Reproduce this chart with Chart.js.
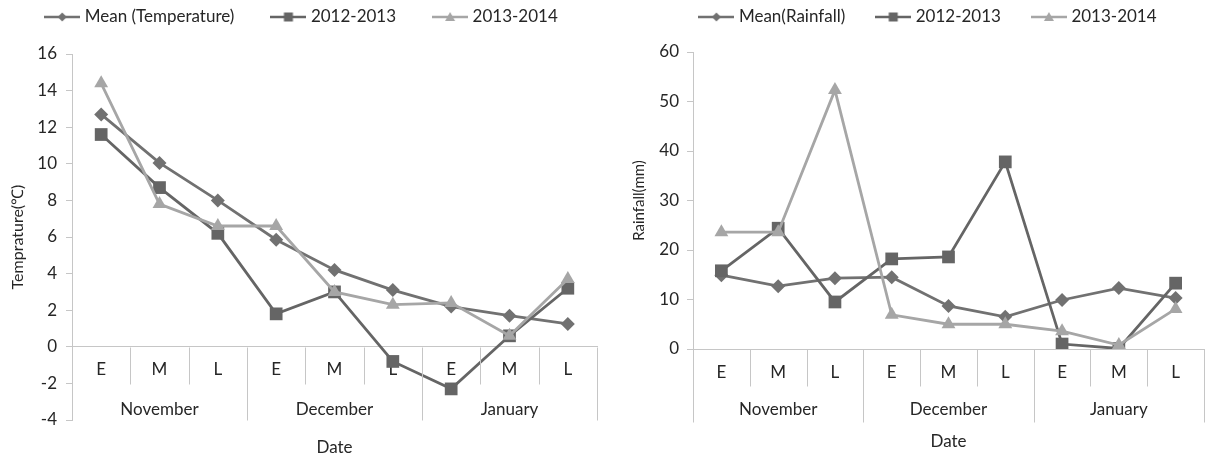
<!DOCTYPE html>
<html>
<head>
<meta charset="utf-8">
<script src="https://cdn.jsdelivr.net/npm/chart.js@4/dist/chart.umd.min.js"></script>
<style>
  html, body { margin: 0; padding: 0; background: #ffffff; }
  #wrap { position: relative; width: 1213px; height: 459px; overflow: hidden; }
  .panel { position: absolute; top: 0; height: 459px; }
  #leftPanel { left: 0; width: 606px; }
  #rightPanel { left: 606px; width: 607px; }
</style>
</head>
<body>
<div id="wrap">
  <div class="panel" id="leftPanel"><canvas id="tempChart"></canvas></div>
  <div class="panel" id="rightPanel"><canvas id="rainChart"></canvas></div>
</div>
<script>
// Ten-day periods (early / mid / late) grouped by month
const periods = ['E', 'M', 'L', 'E', 'M', 'L', 'E', 'M', 'L'];
const months = ['November', 'December', 'January'];

// Temperature (°C)
const tempMean = [12.7, 10.05, 8.0, 5.85, 4.2, 3.1, 2.2, 1.7, 1.25];
const temp1213 = [11.6, 8.7, 6.2, 1.8, 3.0, -0.8, -2.3, 0.6, 3.2];
const temp1314 = [14.4, 7.8, 6.6, 6.6, 3.0, 2.3, 2.4, 0.6, 3.7];

// Rainfall (mm)
const rainMean = [14.9, 12.7, 14.3, 14.5, 8.7, 6.5, 9.9, 12.3, 10.3];
const rain1213 = [15.8, 24.4, 9.5, 18.2, 18.6, 37.8, 1.0, 0.1, 13.3];
const rain1314 = [23.6, 23.6, 52.3, 6.9, 5.0, 5.0, 3.6, 0.8, 8.1];

const FONT = 'Lato, "Open Sans", sans-serif';
const FS = 17;
const TEXT = '#262626';
const AXIS = '#c6c6c6';
const C_MEAN = '#717171';
const C_1213 = '#656565';
const C_1314 = '#a6a6a6';

const styles = [
  { color: C_MEAN, shape: 'rectRot', radius: 7 },
  { color: C_1213, shape: 'rect', radius: 9 },
  { color: C_1314, shape: 'triangle', radius: 8 }
];

// Small line-with-marker swatch used as the legend symbol
function swatch(color, shape) {
  const c = document.createElement('canvas');
  c.width = 36; c.height = 14;
  const g = c.getContext('2d');
  g.strokeStyle = color; g.fillStyle = color; g.lineWidth = 2.5;
  g.beginPath(); g.moveTo(0, 7); g.lineTo(36, 7); g.stroke();
  g.beginPath();
  if (shape === 'rectRot') {
    g.moveTo(18, 2.5); g.lineTo(22.5, 7); g.lineTo(18, 11.5); g.lineTo(13.5, 7);
  } else if (shape === 'rect') {
    g.rect(13.5, 2.5, 9, 9);
  } else {
    g.moveTo(18, 2); g.lineTo(23, 11); g.lineTo(13, 11);
  }
  g.closePath(); g.fill();
  return c;
}

function makeDatasets(names, series) {
  return series.map((data, i) => ({
    label: names[i],
    data: data,
    borderColor: styles[i].color,
    backgroundColor: styles[i].color,
    borderWidth: 2.8,
    pointStyle: styles[i].shape,
    pointRadius: styles[i].radius,
    pointHoverRadius: styles[i].radius,
    pointBorderWidth: 0,
    tension: 0,
    order: 3 - i
  }));
}

// Two-level category axis: separators and month names under the E/M/L labels
const groupAxis = {
  id: 'groupAxis',
  afterDraw(chart, args, o) {
    const xs = chart.scales.x;
    const ys = chart.scales.y;
    const ctx = chart.ctx;
    const base = Math.round(ys.getPixelForValue(o.baseValue)) + 0.5;
    const half = (xs.getPixelForValue(1) - xs.getPixelForValue(0)) / 2;
    ctx.save();
    ctx.strokeStyle = AXIS;
    ctx.lineWidth = 1;
    for (let i = 0; i <= periods.length; i++) {
      const isGroup = i % 3 === 0;
      if (i === 0 && o.skipFirst) continue;
      let px = Math.round(xs.getPixelForValue(i) - half) + 0.5;
      if (px > chart.width) px = chart.width - 0.5;
      ctx.beginPath();
      ctx.moveTo(px, base);
      ctx.lineTo(px, base + (isGroup ? o.groupLen : o.tickLen));
      ctx.stroke();
    }
    ctx.fillStyle = TEXT;
    ctx.font = FS + 'px ' + FONT;
    ctx.textAlign = 'center';
    ctx.textBaseline = 'middle';
    months.forEach((m, k) => {
      ctx.fillText(m, xs.getPixelForValue(k * 3 + 1), o.monthY);
    });
    ctx.fillText('Date', xs.getPixelForValue(4), o.titleY);
    ctx.restore();
  }
};

// Fixes the legend band height and places its row
function legendPlacer(height, rowY, shiftX) {
  return {
    id: 'legendPlacer',
    beforeInit(chart) {
      const lg = chart.legend;
      const fit = lg.fit;
      lg.fit = function () { fit.call(this); this.height = height; };
    },
    beforeDraw(chart) {
      const lg = chart.legend;
      const pad = lg.options.labels.padding;
      lg.top = rowY - pad - FS / 2;
      lg.left = shiftX; lg.right = chart.width + shiftX;
    }
  };
}

function legendOptions(pad) {
  return {
    display: true,
    position: 'top',
    labels: {
      usePointStyle: true,
      pointStyleWidth: 28,
      padding: pad,
      color: TEXT,
      font: { family: FONT, size: FS },
      generateLabels(chart) {
        return chart.data.datasets.map((ds, i) => ({
          text: ds.label,
          pointStyle: swatch(styles[i].color, styles[i].shape),
          fillStyle: styles[i].color,
          strokeStyle: styles[i].color,
          lineWidth: 0,
          hidden: false,
          datasetIndex: i,
          fontColor: TEXT
        }));
      }
    }
  };
}

function yAxis(min, max, step, width, title, titlePad, labelPad, titleSize) {
  return {
    min: min, max: max,
    afterFit(s) { s.width = width; },
    ticks: { stepSize: step, color: TEXT, padding: labelPad, font: { family: FONT, size: FS } },
    grid: { display: true, drawOnChartArea: false, drawTicks: true, tickLength: 6, color: AXIS },
    border: { display: true, color: AXIS },
    title: { display: true, text: title, color: TEXT, padding: { top: titlePad, bottom: 0 },
             font: { family: FONT, size: titleSize } }
  };
}

new Chart(document.getElementById('tempChart'), {
  type: 'line',
  data: {
    labels: periods,
    datasets: makeDatasets(['Mean (Temperature)', '2012-2013', '2013-2014'], [tempMean, temp1213, temp1314])
  },
  options: {
    responsive: true,
    maintainAspectRatio: false,
    animation: false,
    layout: { padding: { left: 0, right: 8, top: 0, bottom: 39 } },
    plugins: {
      legend: legendOptions(40),
      tooltip: { enabled: false },
      groupAxis: { baseValue: 0, tickLen: 37, groupLen: 73, monthY: 410, titleY: 448, skipFirst: true }
    },
    scales: {
      x: {
        position: { y: 0 },
        offset: true,
        grid: { display: false, drawTicks: false },
        border: { display: true, color: AXIS },
        ticks: { color: TEXT, padding: 13, maxRotation: 0, autoSkip: false, font: { family: FONT, size: FS } }
      },
      y: yAxis(-4, 16, 2, 72, 'Temprature(℃)', 8, 9, 16)
    }
  },
  plugins: [groupAxis, legendPlacer(54, 17, 0)]
});

new Chart(document.getElementById('rainChart'), {
  type: 'line',
  data: {
    labels: periods,
    datasets: makeDatasets(['Mean(Rainfall)', '2012-2013', '2013-2014'], [rainMean, rain1213, rain1314])
  },
  options: {
    responsive: true,
    maintainAspectRatio: false,
    animation: false,
    layout: { padding: { left: 0, right: 0, top: 0, bottom: 0 } },
    plugins: {
      legend: legendOptions(34),
      tooltip: { enabled: false },
      groupAxis: { baseValue: 0, tickLen: 37, groupLen: 73, monthY: 410, titleY: 442, skipFirst: false }
    },
    scales: {
      x: {
        position: 'bottom',
        offset: true,
        afterFit(s) { s.height = 110; },
        grid: { display: false, drawTicks: false },
        border: { display: true, color: AXIS },
        ticks: { color: TEXT, padding: 13, maxRotation: 0, autoSkip: false, font: { family: FONT, size: FS } }
      },
      y: yAxis(0, 60, 10, 87, 'Rainfall(mm)', 24, 8, 15)
    }
  },
  plugins: [groupAxis, legendPlacer(52, 17, 20)]
});
</script>
</body>
</html>
